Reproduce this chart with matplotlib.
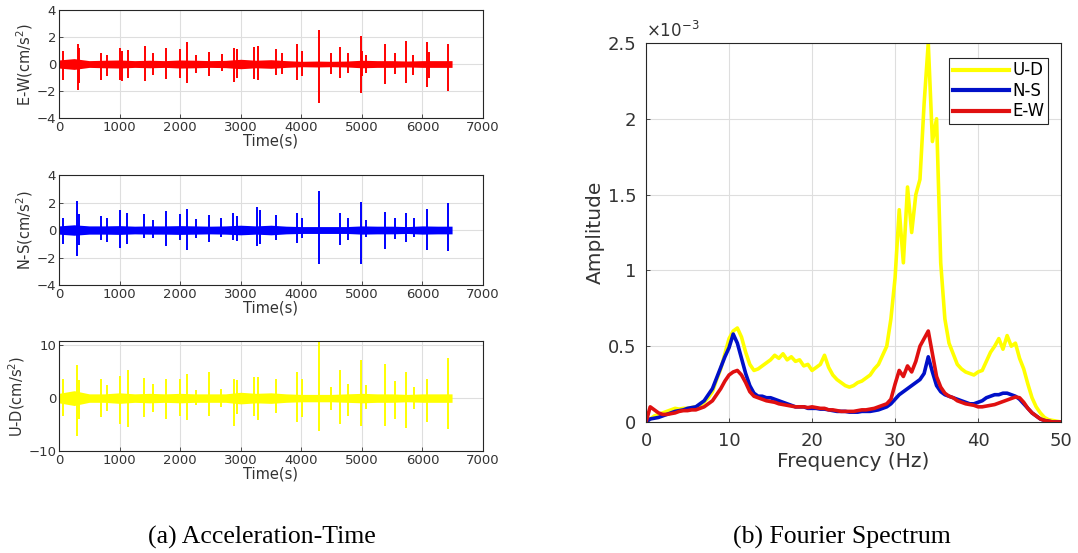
import numpy as np
import matplotlib
matplotlib.use("Agg")
import matplotlib.pyplot as plt

# ---------------- time series data ----------------
# background noise half-width, sampled every 250 s
band_t = [0, 250, 500, 750, 1000, 1250, 1500, 1750, 2000, 2250, 2500, 2750, 3000,
          3250, 3500, 3750, 4000, 4250, 4500, 4750, 5000, 5250, 5500, 5750, 6000,
          6250, 6490]
ew_band = [0.3, 0.4, 0.25, 0.28, 0.3, 0.25, 0.28, 0.25, 0.3, 0.28, 0.25, 0.27, 0.35,
           0.28, 0.32, 0.25, 0.2, 0.22, 0.2, 0.22, 0.28, 0.25, 0.25, 0.22, 0.25,
           0.25, 0.25]
ns_band = [0.3, 0.38, 0.3, 0.3, 0.32, 0.28, 0.3, 0.3, 0.32, 0.3, 0.28, 0.3, 0.35,
           0.3, 0.35, 0.28, 0.25, 0.25, 0.25, 0.25, 0.3, 0.28, 0.28, 0.25, 0.3,
           0.28, 0.28]
ud_band = [0.9, 1.4, 0.8, 0.8, 1.0, 0.8, 0.9, 0.8, 0.9, 0.8, 0.8, 0.8, 1.1,
           0.9, 1.0, 0.8, 0.7, 0.7, 0.7, 0.8, 0.9, 0.8, 0.8, 0.7, 0.8,
           0.8, 0.8]

# spikes: time, max, min
ew_t = [66, 310, 330, 700, 790, 1000, 1045, 1140, 1415, 1550, 1760, 2003, 2113, 2256,
        2477, 2691, 2890, 2940, 3214, 3291, 3577, 3687, 3930, 4018, 4293, 4496, 4634,
        4777, 4992, 5008, 5074, 5388, 5542, 5724, 5845, 6076, 6109, 6423]
ew_hi = [1.0, 1.45, 1.2, 0.8, 0.7, 1.15, 1.0, 1.05, 1.35, 0.85, 1.2, 1.1, 1.6, 0.65,
         0.9, 0.75, 1.15, 1.1, 1.25, 1.35, 1.1, 0.8, 1.5, 1.0, 2.5, 0.8, 1.25,
         0.85, 2.1, 1.0, 0.65, 1.45, 0.85, 1.7, 0.7, 1.6, 0.9, 1.45]
ew_lo = [-1.2, -1.95, -1.4, -1.2, -0.9, -1.2, -1.25, -1.0, -1.25, -0.8, -1.1, -1.0, -1.4, -0.65,
         -0.9, -0.55, -1.3, -1.05, -1.1, -1.15, -0.8, -0.75, -1.15, -0.9, -2.9, -0.75, -1.05,
         -0.65, -2.15, -0.9, -0.65, -1.5, -0.75, -1.4, -0.8, -1.7, -1.0, -2.0]

ns_t = [66, 297, 330, 700, 790, 1010, 1126, 1398, 1552, 1761, 1992, 2113, 2256, 2477,
        2680, 2873, 2940, 3270, 3313, 3577, 3930, 4018, 4293, 4634, 4777, 4992, 5074,
        5388, 5542, 5724, 5856, 6076, 6423]
ns_hi = [0.9, 2.1, 1.2, 1.0, 0.85, 1.45, 1.25, 1.15, 0.75, 1.4, 1.15, 1.5, 0.8, 1.1,
         0.85, 1.25, 1.0, 1.7, 1.45, 1.1, 1.25, 0.85, 2.85, 1.25, 0.85, 2.05, 0.75,
         1.3, 0.9, 1.25, 0.85, 1.5, 1.95]
ns_lo = [-1.0, -1.9, -1.1, -0.7, -0.85, -1.3, -1.0, -0.55, -0.55, -1.15, -0.7, -1.45, -0.55, -0.85,
         -0.5, -0.75, -0.8, -1.15, -1.0, -0.7, -0.95, -0.6, -2.45, -1.1, -0.7, -2.45, -0.5,
         -1.35, -0.65, -0.85, -0.5, -1.45, -1.5]

ud_t = [66, 297, 330, 700, 790, 1010, 1140, 1398, 1552, 1761, 2003, 2113, 2256, 2477,
        2680, 2890, 2940, 3214, 3285, 3577, 3930, 4018, 4293, 4496, 4634, 4777, 4992,
        5074, 5388, 5542, 5724, 5856, 6076, 6423]
ud_hi = [3.7, 6.3, 3.5, 3.7, 2.5, 4.2, 5.25, 3.8, 2.7, 3.7, 3.7, 4.6, 1.6, 4.9,
         1.8, 3.7, 3.35, 4.0, 4.0, 3.7, 4.9, 3.7, 11.5, 2.1, 5.4, 2.7, 7.15,
         2.4, 6.5, 3.2, 4.9, 2.1, 3.7, 7.5]
ud_lo = [-3.3, -7.2, -4.0, -3.6, -2.5, -4.9, -5.5, -3.6, -2.7, -3.9, -3.3, -4.2, -1.4, -3.4,
         -1.7, -5.2, -3.0, -3.3, -4.2, -2.8, -4.6, -3.6, -6.3, -2.2, -4.9, -3.3, -5.2,
         -2.0, -5.3, -3.9, -5.7, -2.0, -4.6, -5.8]

# ---------------- spectrum data (x1e-3) ----------------
freq = np.arange(0, 50.01, 0.5)
ud_amp = [0.0, 0.02, 0.04, 0.05, 0.06, 0.07, 0.08, 0.09, 0.085, 0.09,
          0.09, 0.095, 0.10, 0.11, 0.13, 0.16, 0.20, 0.28, 0.35, 0.45,
          0.55, 0.60, 0.62, 0.56, 0.46, 0.38, 0.34, 0.35, 0.37, 0.39,
          0.41, 0.44, 0.42, 0.45, 0.41, 0.43, 0.40, 0.41, 0.37, 0.38,
          0.34, 0.36, 0.38, 0.44, 0.36, 0.31, 0.28, 0.26, 0.24, 0.23,
          0.24, 0.26, 0.27, 0.29, 0.31, 0.35, 0.38, 0.44, 0.50, 0.68,
          0.95, 1.40, 1.05, 1.55, 1.25, 1.50, 1.60, 2.10, 2.50, 1.85,
          2.00, 1.05, 0.68, 0.52, 0.45, 0.38, 0.35, 0.33, 0.32, 0.31,
          0.33, 0.34, 0.40, 0.46, 0.50, 0.55, 0.48, 0.57, 0.50, 0.52,
          0.42, 0.35, 0.25, 0.16, 0.10, 0.06, 0.03, 0.015, 0.01, 0.005,
          0.0]
ns_amp = [0.0, 0.02, 0.025, 0.03, 0.04, 0.05, 0.06, 0.07, 0.075, 0.08,
          0.09, 0.095, 0.10, 0.12, 0.14, 0.18, 0.22, 0.29, 0.36, 0.43,
          0.49, 0.58, 0.52, 0.42, 0.32, 0.24, 0.19, 0.17, 0.17, 0.16,
          0.16, 0.15, 0.14, 0.13, 0.12, 0.11, 0.10, 0.10, 0.10, 0.09,
          0.09, 0.09, 0.085, 0.085, 0.08, 0.075, 0.07, 0.07, 0.07, 0.065,
          0.065, 0.065, 0.07, 0.07, 0.07, 0.075, 0.08, 0.09, 0.10, 0.12,
          0.15, 0.18, 0.20, 0.22, 0.24, 0.26, 0.28, 0.32, 0.43, 0.33,
          0.24, 0.20, 0.18, 0.17, 0.16, 0.15, 0.14, 0.13, 0.12, 0.12,
          0.13, 0.14, 0.16, 0.17, 0.18, 0.18, 0.19, 0.19, 0.18, 0.17,
          0.15, 0.12, 0.09, 0.06, 0.04, 0.02, 0.01, 0.005, 0.0, 0.0,
          0.0]
ew_amp = [0.0, 0.10, 0.08, 0.06, 0.05, 0.05, 0.055, 0.06, 0.07, 0.075,
          0.075, 0.08, 0.08, 0.09, 0.10, 0.12, 0.14, 0.18, 0.22, 0.27,
          0.31, 0.33, 0.34, 0.31, 0.26, 0.20, 0.17, 0.16, 0.15, 0.14,
          0.135, 0.13, 0.12, 0.115, 0.11, 0.105, 0.10, 0.10, 0.10, 0.095,
          0.10, 0.095, 0.09, 0.09, 0.08, 0.08, 0.075, 0.07, 0.07, 0.07,
          0.07, 0.075, 0.08, 0.08, 0.085, 0.09, 0.10, 0.11, 0.12, 0.15,
          0.25, 0.34, 0.30, 0.37, 0.33, 0.40, 0.50, 0.55, 0.60, 0.45,
          0.30, 0.23, 0.19, 0.17, 0.16, 0.14, 0.13, 0.12, 0.115, 0.11,
          0.10, 0.10, 0.105, 0.11, 0.115, 0.125, 0.135, 0.145, 0.155, 0.165,
          0.16, 0.13, 0.09, 0.06, 0.04, 0.02, 0.01, 0.005, 0.0, 0.0,
          0.0]

tick_col = "#333333"
grid_col = "#dedede"

fig = plt.figure(figsize=(10.78, 5.53), dpi=100)


def style(ax, fs, pad):
    ax.grid(True, color=grid_col, linewidth=0.8)
    ax.set_axisbelow(True)
    ax.tick_params(direction="in", length=3, labelsize=fs, colors=tick_col, width=0.6, pad=pad)
    for sp in ax.spines.values():
        sp.set_color("#262626")
        sp.set_linewidth(0.8)


series = [
    (ew_band, ew_t, ew_hi, ew_lo, "#ff0000", "E-W(cm/s$^2$)", (-4, 4), [-4, -2, 0, 2, 4]),
    (ns_band, ns_t, ns_hi, ns_lo, "#0000ff", "N-S(cm/s$^2$)", (-4, 4), [-4, -2, 0, 2, 4]),
    (ud_band, ud_t, ud_hi, ud_lo, "#ffff00", "U-D(cm/s$^2$)", (-10, 10.8), [-10, 0, 10]),
]
bottoms = [0.7866, 0.4846, 0.1845]
heights = [0.1953, 0.1989, 0.1989]

for (band, st, hi, lo, col, lab, yl, yt), b, h in zip(series, bottoms, heights):
    ax = fig.add_axes([0.0547, b, 0.3933, h])
    style(ax, 9.5, 2)
    ax.fill_between(band_t, -np.array(band), np.array(band), color=col, linewidth=0)
    ax.vlines(st, lo, hi, color=col, linewidth=1.4)
    ax.set_xlim(0, 7000)
    ax.set_ylim(*yl)
    ax.set_xticks(range(0, 7001, 1000))
    ax.set_yticks(yt)
    ax.set_xlabel("Time(s)", fontsize=10.5, color=tick_col, labelpad=0)
    ax.set_ylabel(lab, fontsize=10.5, color=tick_col, labelpad=1)

# spectrum
ax4 = fig.add_axes([0.5993, 0.2369, 0.385, 0.6854])
style(ax4, 13, 7)
ax4.plot(freq, np.array(ud_amp) * 1e-3, color="#ffff00", linewidth=2.6, label="U-D")
ax4.plot(freq, np.array(ns_amp) * 1e-3, color="#0010c8", linewidth=2.6, label="N-S")
ax4.plot(freq, np.array(ew_amp) * 1e-3, color="#e01010", linewidth=2.6, label="E-W")
ax4.set_xlim(0, 50)
ax4.set_ylim(0, 2.5e-3)
ax4.set_xticks(range(0, 51, 10))
ax4.set_yticks([0, 0.5e-3, 1e-3, 1.5e-3, 2e-3, 2.5e-3])
ax4.set_yticklabels(["0", "0.5", "1", "1.5", "2", "2.5"])
ax4.text(0.0, 1.005, r"$\times10^{-3}$", transform=ax4.transAxes, fontsize=12,
         color=tick_col, ha="left", va="bottom")
ax4.set_xlabel("Frequency (Hz)", fontsize=14.5, color=tick_col, labelpad=2)
ax4.set_ylabel("Amplitude", fontsize=14.5, color=tick_col, labelpad=2)
leg = ax4.legend(loc="upper right", bbox_to_anchor=(0.969, 0.960), borderaxespad=0,
                 fontsize=12, handlelength=3.4, handletextpad=0.2, labelspacing=0.15,
                 borderpad=0.2, fancybox=False, framealpha=1, edgecolor="#262626")
leg.get_frame().set_linewidth(0.8)
for line in leg.get_lines():
    line.set_linewidth(3)

fig.text(0.243, 0.029, "(a) Acceleration-Time", family="Liberation Serif", fontsize=18.5,
         ha="center", va="center")
fig.text(0.781, 0.029, "(b) Fourier Spectrum", family="Liberation Serif", fontsize=18.5,
         ha="center", va="center")

fig.savefig("out.png", dpi=100)
